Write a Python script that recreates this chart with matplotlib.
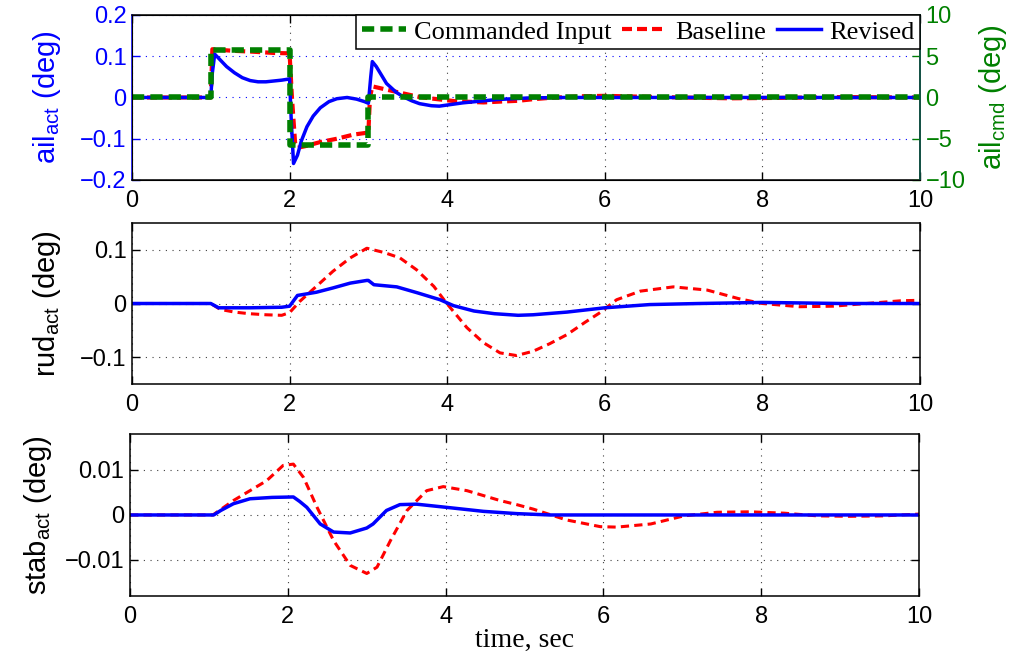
import matplotlib
matplotlib.use('Agg')
import matplotlib.pyplot as plt
from matplotlib.ticker import FuncFormatter
from matplotlib.lines import Line2D

plt.rcParams['font.family'] = ['Liberation Sans', 'DejaVu Sans']
plt.rcParams['mathtext.fontset'] = 'custom'
plt.rcParams['mathtext.rm'] = 'Liberation Sans'
plt.rcParams['axes.unicode_minus'] = True

# commanded aileron input (deg), step values
t_cmd = [0, 1, 2, 3, 10]
ail_cmd = [0, 5.73, -5.73, 0, 0]

# aileron actuator response (deg)
t_ail_base = [0, 1.0, 1.02, 1.07, 1.3, 1.53, 1.8, 2.0, 2.03, 2.07, 2.1, 2.2, 2.39, 2.6, 2.81,
              3.0, 3.02, 3.05, 3.23, 3.44, 3.65, 3.87, 4.1, 4.46, 4.67, 4.9, 5.1, 5.3, 5.72,
              6.0, 6.45, 6.96, 7.6, 8.2, 9.0, 10.0]
ail_base = [0, 0, 0.117, 0.116, 0.113, 0.111, 0.108, 0.107, 0.0, -0.11, -0.122, -0.118, -0.108,
            -0.1, -0.09, -0.085, 0.0, 0.027, 0.019, 0.01, 0.001, -0.004, -0.009, -0.012, -0.01,
            -0.008, -0.004, -0.001, 0.003, 0.004, 0.002, 0.0, -0.002, -0.001, 0.001, 0.0]
t_ail_rev = [0, 1.0, 1.02, 1.05, 1.1, 1.2, 1.3, 1.4, 1.5, 1.6, 1.7, 1.8, 1.9, 2.0, 2.02, 2.05,
             2.1, 2.15, 2.22, 2.3, 2.39, 2.5, 2.6, 2.73, 2.85, 2.95, 3.0, 3.03, 3.05, 3.1, 3.23,
             3.35, 3.44, 3.55, 3.65, 3.8, 3.9, 4.2, 4.63, 5.05, 5.5, 10.0]
ail_rev = [0, 0, 0.06, 0.105, 0.095, 0.075, 0.06, 0.048, 0.041, 0.038, 0.038, 0.04, 0.042, 0.045,
           -0.05, -0.16, -0.14, -0.105, -0.071, -0.045, -0.025, -0.01, -0.003, 0.0, -0.004, -0.01,
           -0.014, 0.05, 0.087, 0.075, 0.034, 0.013, 0.002, -0.008, -0.015, -0.02, -0.021, -0.013,
           -0.005, -0.001, 0.0, 0.0]

# rudder actuator response (deg)
t_rud_base = [0, 1.0, 1.12, 1.3, 1.49, 1.7, 1.9, 2.0, 2.13, 2.34, 2.55, 2.77, 2.98, 3.2, 3.4,
              3.61, 3.83, 3.99, 4.25, 4.46, 4.67, 4.88, 5.09, 5.3, 5.52, 5.75, 5.94, 6.15, 6.45,
              6.87, 7.3, 7.7, 8.0, 8.47, 8.9, 9.32, 9.75, 10.0]
rud_base = [0, 0, -0.011, -0.016, -0.019, -0.021, -0.022, -0.017, 0.004, 0.032, 0.06, 0.085,
            0.103, 0.095, 0.085, 0.063, 0.032, 0.001, -0.045, -0.073, -0.092, -0.097, -0.089,
            -0.075, -0.058, -0.035, -0.017, 0.007, 0.023, 0.031, 0.025, 0.009, 0.0, -0.006,
            -0.005, 0.0, 0.005, 0.006]
t_rud_rev = [0, 1.0, 1.1, 1.5, 1.9, 2.0, 2.1, 2.34, 2.55, 2.77, 2.98, 3.0, 3.07, 3.36, 3.62,
             3.91, 4.08, 4.34, 4.6, 4.9, 5.09, 5.52, 6.0, 6.57, 7.2, 8.0, 9.0, 10.0]
rud_rev = [0, 0, -0.008, -0.008, -0.007, -0.005, 0.015, 0.021, 0.029, 0.038, 0.043, 0.043, 0.035,
           0.031, 0.02, 0.007, -0.004, -0.014, -0.019, -0.022, -0.021, -0.016, -0.008, -0.002,
           0.0, 0.002, 0.0, 0.0]

# stabilator actuator response (deg)
t_stab_base = [0, 1.05, 1.31, 1.52, 1.73, 1.94, 2.07, 2.2, 2.37, 2.58, 2.79, 3.0, 3.13, 3.3,
               3.51, 3.76, 3.97, 4.27, 4.69, 4.9, 5.11, 5.53, 5.96, 6.17, 6.6, 7.02, 7.44, 7.86,
               8.29, 8.71, 9.13, 9.55, 10.0]
stab_base = [0, 0, 0.0032, 0.0054, 0.0076, 0.011, 0.0113, 0.0083, 0.0017, -0.0057, -0.0112,
             -0.013, -0.0116, -0.0057, 0.001, 0.0054, 0.0063, 0.0054, 0.0032, 0.0023, 0.0013,
             -0.0011, -0.0026, -0.0027, -0.002, -0.0002, 0.0006, 0.0007, 0.0004, -0.0002,
             -0.0003, -0.0002, 0.0002]
t_stab_rev = [0, 1.06, 1.15, 1.31, 1.52, 1.8, 2.07, 2.15, 2.24, 2.41, 2.58, 2.79, 3.0, 3.08,
              3.25, 3.42, 3.63, 4.06, 4.48, 4.9, 5.32, 10.0]
stab_rev = [0, 0, 0.001, 0.0025, 0.0036, 0.0039, 0.004, 0.003, 0.0017, -0.002, -0.0038, -0.004,
            -0.0029, -0.002, 0.001, 0.0023, 0.0024, 0.0016, 0.0008, 0.0003, 0.0, 0.0]

xticks = [0, 2, 4, 6, 8, 10]

BLUE = (0, 0, 1)
RED = (1, 0, 0)
GREEN = (0, 0.5, 0)
TICK_FS = 17
LABEL_FS = 21
fmt = FuncFormatter(lambda v, p: ('%g' % v).replace('-', '\u2212'))
grid_kw = dict(linestyle=(0, (1, 5)), linewidth=0.8)

fig = plt.figure(figsize=(10.16, 6.6), dpi=100)
ax1 = fig.add_axes([0.1299, 0.7273, 0.7756, 0.25])
ax_r = fig.add_axes([0.1299, 0.4182, 0.7756, 0.2439])
ax_s = fig.add_axes([0.1280, 0.0970, 0.7766, 0.2455])


def style(ax, ycol='black'):
    ax.set_xlim(0, 10)
    ax.set_xticks(xticks)
    ax.xaxis.set_major_formatter(fmt)
    ax.yaxis.set_major_formatter(fmt)
    ax.tick_params(direction='in', length=6, width=1, labelsize=TICK_FS,
                   top=True, right=True)
    ax.tick_params(axis='x', pad=7)
    ax.tick_params(axis='y', pad=4, colors=ycol)
    for s in ax.spines.values():
        s.set_linewidth(1.1)
    ax.spines['left'].set_color(ycol)
    ax.grid(True, axis='x', color='0.25', **grid_kw)
    ax.grid(True, axis='y', color=ycol if ycol != 'black' else '0.25', **grid_kw)


# top: aileron
ax1.plot(t_ail_base, ail_base, color=RED, lw=3.0, dashes=(2.4, 1.2))
ax1.plot(t_ail_rev, ail_rev, color=BLUE, lw=2.5)
ax1.set_ylim(-0.2, 0.2)
ax1.set_yticks([-0.2, -0.1, 0, 0.1, 0.2])
style(ax1, BLUE)
ax1.tick_params(right=False)
ax1.set_ylabel('ail$_\\mathregular{act}$ (deg)', color=BLUE, fontsize=LABEL_FS, labelpad=12)

ax2 = ax1.twinx()
ax2.plot(t_cmd, ail_cmd, color=GREEN, lw=4.0, dashes=(2.2, 1.1), drawstyle='steps-post')
ax2.set_ylim(-10, 10)
ax2.set_yticks([-10, -5, 0, 5, 10])
ax2.yaxis.set_major_formatter(fmt)
ax2.tick_params(direction='in', length=6, width=1, labelsize=TICK_FS, colors=GREEN, pad=4)
ax2.spines['right'].set_color('#0b5a4a')
ax2.spines['right'].set_linewidth(1.1)
ax2.set_ylabel('ail$_\\mathregular{cmd}$ (deg)', color=GREEN, fontsize=LABEL_FS,
               rotation=90, labelpad=8)

handles = [Line2D([], [], color=GREEN, lw=4.0, dashes=(2.2, 1.1)),
           Line2D([], [], color=RED, lw=3.0, dashes=(2.4, 1.2)),
           Line2D([], [], color=BLUE, lw=2.5)]
leg = ax2.legend(handles, ['Commanded Input', 'Baseline', 'Revised'], loc='upper right',
                 ncol=3, frameon=True, fancybox=False, borderaxespad=0, borderpad=0.2,
                 handlelength=1.7, handletextpad=0.3, columnspacing=0.4,
                 prop={'family': 'Liberation Serif', 'size': 19})
leg.get_frame().set_edgecolor('black')
leg.get_frame().set_linewidth(1.1)
leg.get_frame().set_alpha(1)

# middle: rudder
ax_r.plot(t_rud_base, rud_base, color=RED, lw=2.2, dashes=(2.7, 1.7))
ax_r.plot(t_rud_rev, rud_rev, color=BLUE, lw=2.5)
ax_r.set_ylim(-0.15, 0.15)
ax_r.set_yticks([-0.1, 0, 0.1])
style(ax_r)
ax_r.set_ylabel('rud$_\\mathregular{act}$ (deg)', fontsize=LABEL_FS, labelpad=12)

# bottom: stabilator
ax_s.plot(t_stab_base, stab_base, color=RED, lw=2.2, dashes=(2.7, 1.7))
ax_s.plot(t_stab_rev, stab_rev, color=BLUE, lw=2.5)
ax_s.set_ylim(-0.018, 0.018)
ax_s.set_yticks([-0.01, 0, 0.01])
style(ax_s)
ax_s.set_ylabel('stab$_\\mathregular{act}$ (deg)', fontsize=LABEL_FS, labelpad=8)
ax_s.set_xlabel('time, sec', family='Liberation Serif', fontsize=20, labelpad=0)

fig.savefig('out.png', dpi=100)
